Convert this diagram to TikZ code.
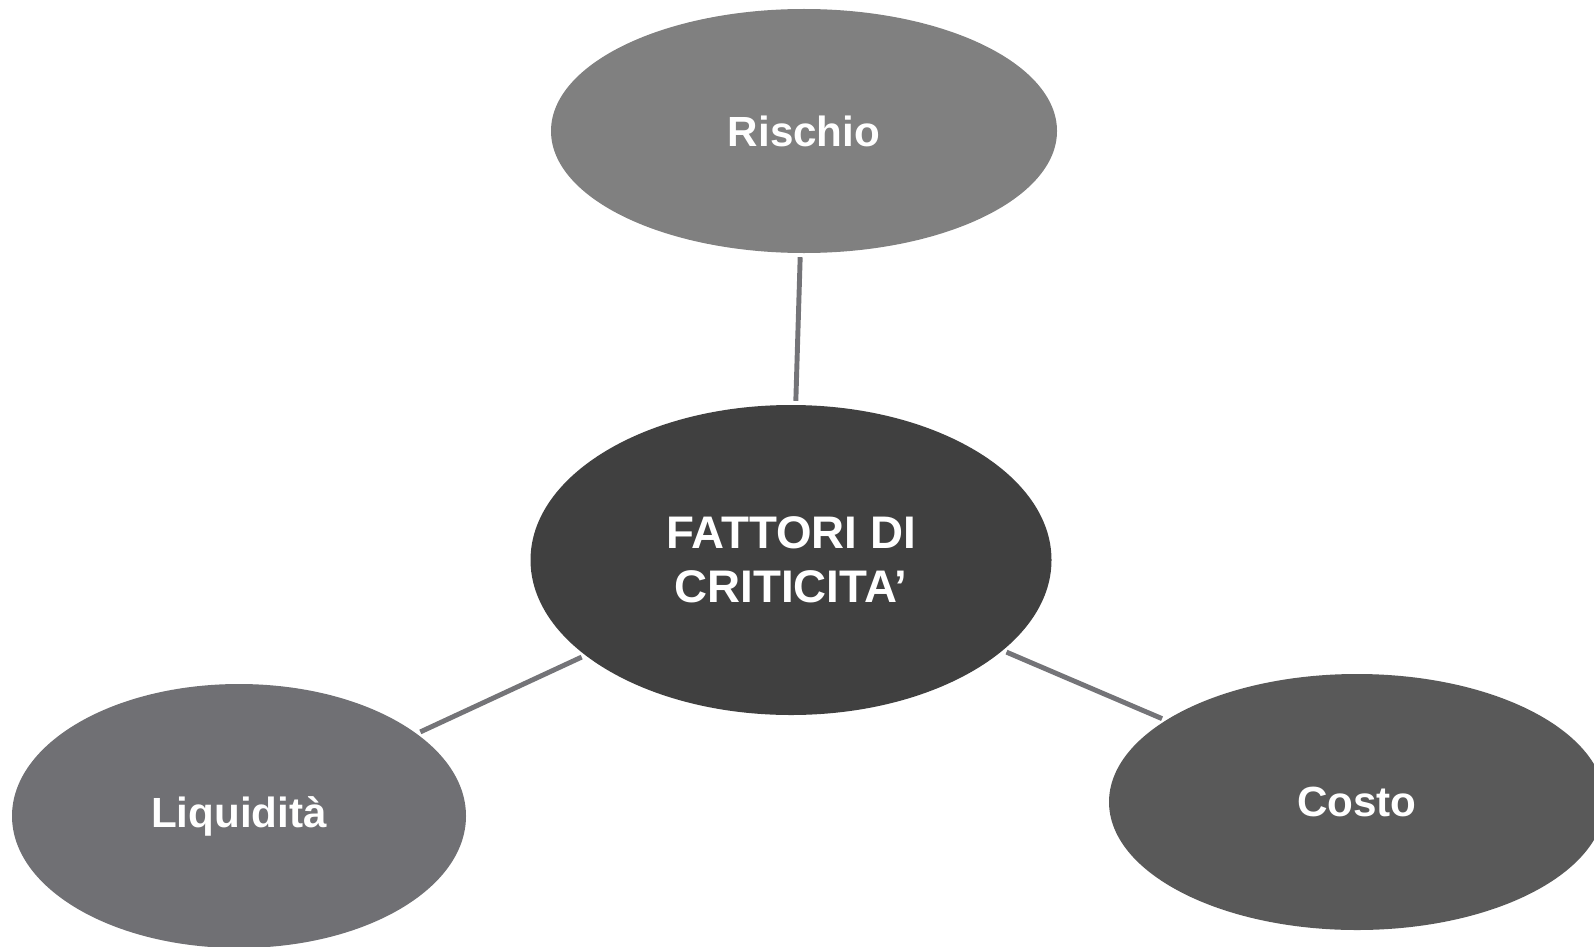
\documentclass[tikz,border=0pt]{standalone}
\usepackage{fontspec}
\setmainfont{Liberation Sans}
\usetikzlibrary{shapes.geometric}
\definecolor{risk}{HTML}{808080}
\definecolor{core}{HTML}{404040}
\definecolor{liq}{HTML}{707074}
\definecolor{cost}{HTML}{595959}
\definecolor{link}{HTML}{747478}
\begin{document}
\begin{tikzpicture}[
  bubble/.style={ellipse,inner sep=0pt,text=white,font=\bfseries\fontsize{12}{14}\selectfont},
  link/.style={draw=link,line width=1.4pt,shorten <=1pt,shorten >=1pt}]

\useasboundingbox (0,0) rectangle (15.94,9.46);

\node[bubble,fill=risk,minimum width=5.06cm,minimum height=2.44cm] (r) at (8.04,8.15) {Rischio};
\node[bubble,fill=core,minimum width=5.21cm,minimum height=3.10cm,align=center,
  font=\bfseries\fontsize{13}{15.5}\selectfont] (c) at (7.91,3.86) {FATTORI DI\\CRITICITA’};
\node[bubble,fill=liq,minimum width=4.54cm,minimum height=2.64cm] (l) at (2.39,1.30) {Liquidità};
\node[bubble,fill=cost,minimum width=4.96cm,minimum height=2.56cm] (k) at (13.57,1.44) {Costo};

\path[link] (r) edge (c) (c) edge (l) (c) edge (k);

\end{tikzpicture}
\end{document}
